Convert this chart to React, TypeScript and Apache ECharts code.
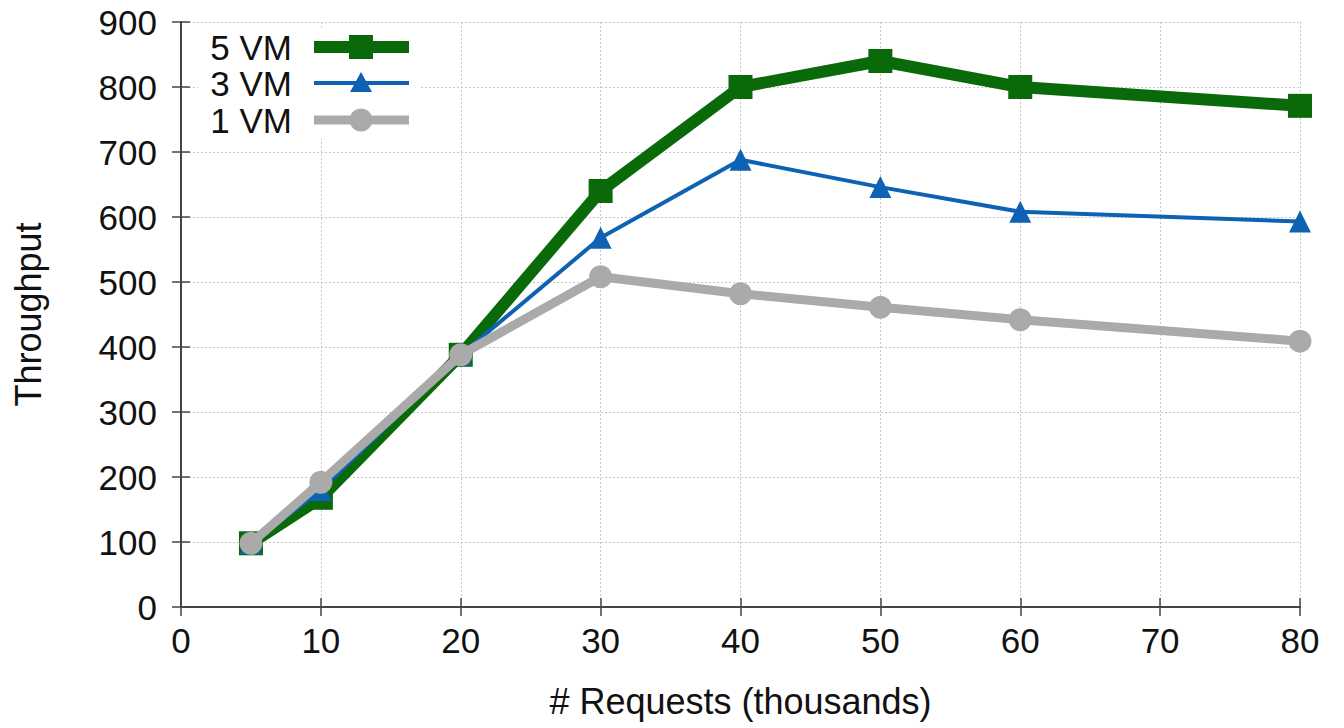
import React, { useEffect, useRef } from "react";
import * as echarts from "echarts";

const xValues = [5, 10, 20, 30, 40, 50, 60, 80];
const vm5 = [98, 168, 388, 640, 800, 840, 800, 771];
const vm3 = [98, 180, 388, 568, 688, 646, 608, 593];
const vm1 = [98, 192, 388, 508, 482, 461, 442, 409];

const seriesNames = ["5 VM", "3 VM", "1 VM"];
const seriesData = [vm5, vm3, vm1];
const seriesColors = ["#0a6a0a", "#0e62b4", "#aaaaaa"];
const seriesWidths = [12, 4, 9];
const seriesSymbols = ["rect", "triangle", "circle"];
const seriesSymbolSizes = [24, 22, 23];

const xTitle = "# Requests (thousands)";
const yTitle = "Throughput";

const FONT = "'Liberation Sans', Arial, Helvetica, sans-serif";

export default function App() {
  const ref = useRef<HTMLDivElement>(null);
  useEffect(() => {
    if (!ref.current) return;
    const chart = echarts.init(ref.current, null, { renderer: "svg" });
    const frameColor = "#444";
    const tickStyle = { show: true, inside: true, length: 9, lineStyle: { color: frameColor, width: 1.5 } };
    const axisLine = { show: true, lineStyle: { color: frameColor, width: 2 } };
    const gridLine = { show: true, lineStyle: { color: "#c8c8c8", width: 1, type: [2, 2] as any } };

    const legendGraphics: any[] = [
      { type: "rect", shape: { x: 198, y: 29, width: 222, height: 110 }, style: { fill: "#ffffff" }, z: 90 },
    ];
    const rowY = [47, 83, 120];
    seriesNames.forEach((name, i) => {
      const y = rowY[i];
      legendGraphics.push({
        type: "text",
        x: 292,
        y,
        style: { text: name, font: `35px ${FONT}`, lineHeight: 34, fill: "#111", align: "right", verticalAlign: "middle" },
        z: 100,
      });
      legendGraphics.push({
        type: "line",
        shape: { x1: 314, y1: y, x2: 409, y2: y },
        style: { stroke: seriesColors[i], lineWidth: seriesWidths[i] },
        z: 100,
      });
      const s = seriesSymbolSizes[i];
      if (seriesSymbols[i] === "rect") {
        legendGraphics.push({ type: "rect", shape: { x: 361 - s / 2, y: y - s / 2, width: s, height: s }, style: { fill: seriesColors[i] }, z: 101 });
      } else if (seriesSymbols[i] === "triangle") {
        legendGraphics.push({ type: "polygon", shape: { points: [[361, y - s / 2], [361 + s / 2, y + s / 2 - 2], [361 - s / 2, y + s / 2 - 2]] }, style: { fill: seriesColors[i] }, z: 101 });
      } else {
        legendGraphics.push({ type: "circle", shape: { cx: 361, cy: y, r: s / 2 }, style: { fill: seriesColors[i] }, z: 101 });
      }
    });

    chart.setOption({
      animation: false,
      backgroundColor: "#ffffff",
      textStyle: { fontFamily: FONT },
      grid: { left: 181, right: 44, top: 22, bottom: 121, containLabel: false },
      xAxis: [
        {
          type: "value",
          min: 0,
          max: 80,
          interval: 10,
          position: "bottom",
          name: xTitle,
          nameLocation: "middle",
          nameGap: 76,
          nameTextStyle: { fontSize: 36, color: "#111", fontFamily: FONT },
          axisLine,
          axisTick: tickStyle,
          axisLabel: { fontSize: 35, color: "#111", margin: 16, fontFamily: FONT },
          splitLine: gridLine,
        },
        {
          type: "value",
          min: 0,
          max: 80,
          interval: 10,
          position: "top",
          axisLine,
          axisTick: tickStyle,
          axisLabel: { show: false },
          splitLine: { show: false },
        },
      ],
      yAxis: [
        {
          type: "value",
          min: 0,
          max: 900,
          interval: 100,
          position: "left",
          name: yTitle,
          nameLocation: "middle",
          nameGap: 135,
          nameTextStyle: { fontSize: 36, color: "#111", fontFamily: FONT },
          axisLine,
          axisTick: tickStyle,
          axisLabel: { fontSize: 35, color: "#111", margin: 24, fontFamily: FONT },
          splitLine: gridLine,
        },
        {
          type: "value",
          min: 0,
          max: 900,
          interval: 100,
          position: "right",
          axisLine,
          axisTick: tickStyle,
          axisLabel: { show: false },
          splitLine: { show: false },
        },
      ],
      series: seriesNames.map((name, i) => ({
        name,
        type: "line",
        data: xValues.map((x, j) => [x, seriesData[i][j]]),
        symbol: seriesSymbols[i],
        symbolSize: seriesSymbolSizes[i],
        showAllSymbol: true,
        lineStyle: { color: seriesColors[i], width: seriesWidths[i], join: "round" },
        itemStyle: { color: seriesColors[i] },
        z: 2 + i,
      })),
      graphic: legendGraphics,
    });
    return () => chart.dispose();
  }, []);
  return <div ref={ref} style={{ position: "fixed", left: 0, top: 0, width: 1344, height: 728 }} />;
}
